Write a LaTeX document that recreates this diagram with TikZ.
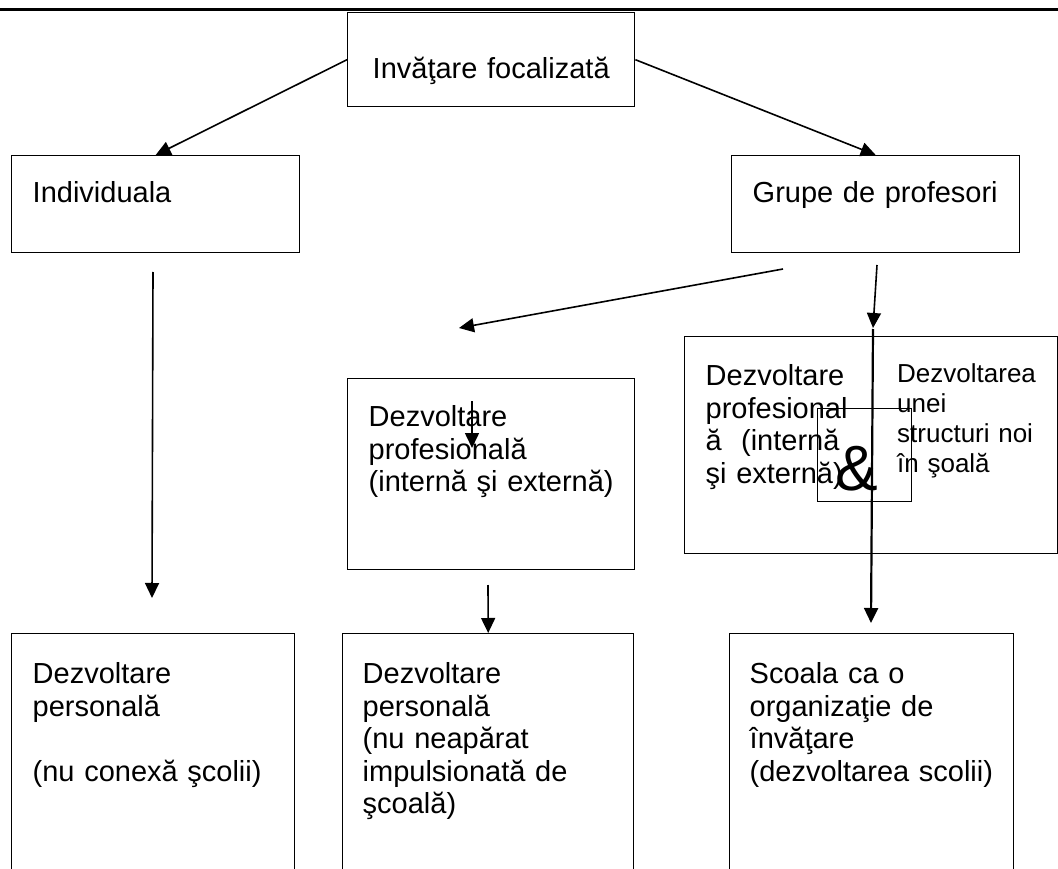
\documentclass[tikz,border=0pt]{standalone}
\usepackage{fontspec}
\setmainfont{Liberation Sans}
\usetikzlibrary{arrows.meta}
\newcommand\mainfs{\fontsize{29}{32.5}\selectfont}
\newcommand\smallfs{\fontsize{26}{30}\selectfont}
\newcommand\ampfs{\fontsize{64}{64}\selectfont}

\begin{document}
\begin{tikzpicture}[x=1pt, y=-1pt,
  box/.style={draw,line width=1.4pt,anchor=north west,inner ysep=0pt,inner xsep=21pt,align=left,font=\mainfs},
  arr/.style={-{Triangle[length=15pt,width=14pt]},line width=1.6pt}]
\useasboundingbox (0,0) rectangle (1058,869);
% top rule
\draw[line width=2.8pt] (0,9.7) -- (1058,9.7);
% first levels
\node[box,align=center,inner xsep=20pt,text width=247pt,text height=66pt,text depth=28pt] (focus) at (347,12) {Invăţare focalizată};
\node[box,text width=246pt,text height=47pt,text depth=50pt] (indiv) at (11,155) {Individuala};
\node[box,text width=246pt,text height=47pt,text depth=50pt] (grupe) at (731,155) {Grupe de profesori};
% middle level
\node[box,text width=245pt,text height=48pt,text depth=143pt] (profint) at (347,378) {Dezvoltare\\profesională\\(internă şi externă)};
\node[box,text width=331pt,text height=49pt,text depth=168pt] (proftwo) at (684,336) {Dezvoltare\\profesional\\ă \ (internă\\şi externă)};
\node[anchor=base west,inner sep=0pt,align=left,text width=150pt,font=\smallfs] (struct) at (897,382) {Dezvoltarea\\unei\\structuri noi\\în şoală};
\node[box,font=\ampfs,inner xsep=18pt,text width=58pt,text height=82pt,text depth=11pt] (amp) at (817,408) {\&};
% bottom level
\node[box,text width=241pt,text height=50pt,text depth=192pt] (perslft) at (11,633) {Dezvoltare\\personală\\\mbox{}\\(nu conexă şcolii)};
\node[box,inner xsep=20pt,text width=251pt,text height=50pt,text depth=192pt] (persmid) at (342,633) {Dezvoltare\\personală\\(nu neapărat\\impulsionată de\\şcoală)};
\node[box,inner xsep=20pt,text width=244pt,text height=50pt,text depth=192pt] (scoala) at (729,633) {Scoala ca o\\organizaţie de\\învăţare\\(dezvoltarea scolii)};
% loose arrow ends
\coordinate (indivout) at (153,272); \coordinate (indivend) at (152,598);
\coordinate (grupeout) at (783,269); \coordinate (profend) at (459,328);
\coordinate (grupedown) at (877,265); \coordinate (grupeend) at (873,328);
\coordinate (innerout) at (472,401); \coordinate (innerend) at (472,448);
\coordinate (profout) at (488,585);
\coordinate (linetop) at (873,329); \coordinate (lineend) at (871,623);
% arrows
\foreach \s/\t in {focus.west/indiv.north,focus.east/grupe.north,indivout/indivend,grupeout/profend,grupedown/grupeend,innerout/innerend,profout/persmid.north}
  \draw[arr] (\s) -- (\t);
\draw[arr,line width=2.2pt] (linetop) -- (lineend);
\end{tikzpicture}
\end{document}
